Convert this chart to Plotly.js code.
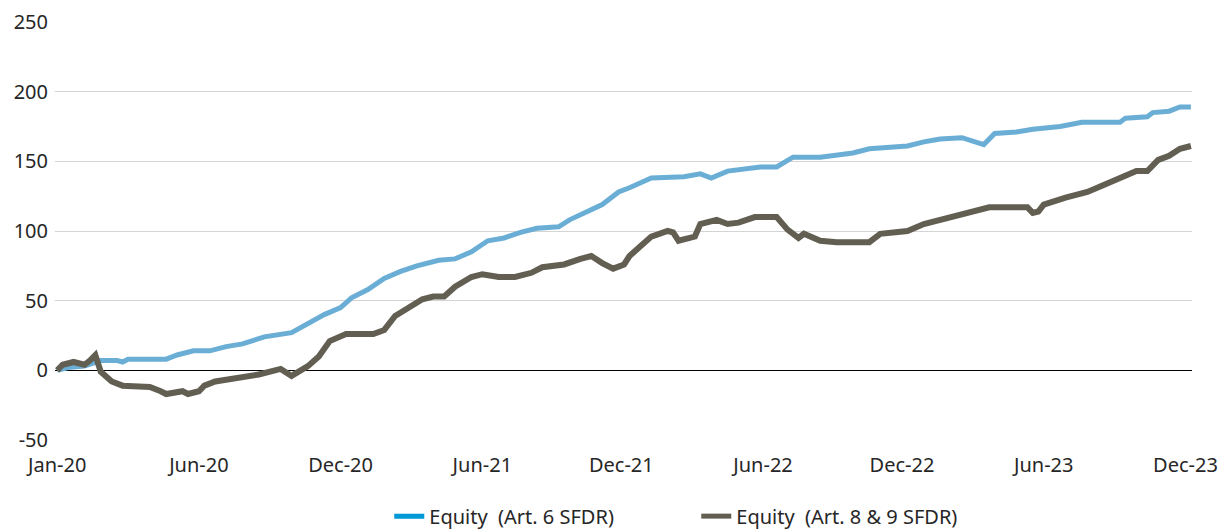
<!DOCTYPE html>
<html>
<head>
<meta charset="utf-8">
<script src="https://cdn.plot.ly/plotly-3.0.1.min.js"></script>
<style>html,body{margin:0;padding:0;background:#fff;}#chart{width:1220px;height:531px;}</style>
</head>
<body>
<div id="chart"></div>
<script>
// Week index (0 = start Jan-20, ~208 = end Dec-23) and values
const tickPositions = [0, 26, 52, 78, 103.5, 129.5, 155, 181, 207];
const tickLabels = ["Jan-20", "Jun-20", "Dec-20", "Jun-21", "Dec-21", "Jun-22", "Dec-22", "Jun-23", "Dec-23"];
const yTickValues = [-50, 0, 50, 100, 150, 200, 250];
const yTickLabels = ["-50", "0", "50", "100", "150", "200", "250"];

const art6Weeks = [0, 2, 5, 8, 11, 12, 13, 20, 22, 25, 28, 31, 34, 38, 43, 46, 49, 52, 54, 57, 60, 63, 66, 70, 73, 76, 79, 82, 85, 88, 92, 94, 97, 100, 103, 105, 109, 115, 118, 120, 123, 129, 132, 134, 135, 140, 146, 149, 153, 156, 159, 162, 166, 170, 172, 175, 176, 179, 184, 188, 195, 196, 200, 201, 204, 206, 208];
const art6Values = [0, 2, 3, 7, 7, 6, 8, 8, 11, 14, 14, 17, 19, 24, 27, 34, 40, 45, 52, 58, 66, 71, 75, 79, 80, 85, 93, 95, 99, 102, 103, 108, 114, 119, 128, 131, 138, 139, 141, 138, 143, 146, 146, 151, 153, 153, 156, 159, 160, 161, 164, 166, 167, 162, 170, 171, 171, 173, 175, 178, 178, 181, 182, 185, 186, 189, 189];

const art89Weeks = [0, 1, 3, 5, 6, 7, 8, 10, 12, 15, 17, 19, 20, 23, 24, 26, 27, 29, 32, 34, 37, 41, 43, 46, 48, 50, 53, 58, 60, 62, 64, 67, 69, 71, 73, 76, 78, 81, 84, 87, 89, 93, 96, 98, 100, 102, 104, 105, 107, 109, 112, 113, 114, 117, 118, 121, 123, 125, 128, 132, 134, 136, 137, 140, 143, 149, 151, 156, 159, 164, 167, 171, 178, 179, 180, 181, 185, 189, 192, 195, 198, 200, 202, 204, 206, 208];
const art89Values = [0, 4, 6, 4, 7, 11, -1, -8, -11, -12, -12, -15, -17, -15, -17, -15, -11, -8, -6, -5, -3, 1, -4, 3, 10, 21, 26, 26, 29, 39, 44, 51, 53, 53, 60, 67, 69, 67, 67, 70, 74, 76, 80, 82, 77, 73, 76, 82, 89, 96, 100, 99, 93, 96, 105, 108, 105, 106, 110, 110, 101, 95, 98, 93, 92, 92, 98, 100, 105, 110, 113, 117, 117, 113, 114, 119, 124, 128, 133, 138, 143, 143, 151, 154, 159, 161];

const seriesNames = ["Equity\u00a0 (Art. 6 SFDR)", "Equity\u00a0 (Art. 8 & 9 SFDR)"];

const FONT = "Noto Sans, Open Sans, sans-serif";
const TXT = "#262626";
const traces = [
  {x: art6Weeks, y: art6Values, type: "scatter", mode: "lines", showlegend: false,
   line: {color: "#6aaed6", width: 5}, hoverinfo: "skip"},
  {x: art89Weeks, y: art89Values, type: "scatter", mode: "lines", showlegend: false,
   line: {color: "#625f52", width: 6}, hoverinfo: "skip"},
  {x: [null], y: [null], type: "scatter", mode: "lines", name: seriesNames[0],
   line: {color: "#0099d8", width: 5}},
  {x: [null], y: [null], type: "scatter", mode: "lines", name: seriesNames[1],
   line: {color: "#625f52", width: 5}}
];

const layout = {
  width: 1220, height: 531,
  margin: {l: 55, r: 28, t: 22, b: 91, autoexpand: false},
  paper_bgcolor: "#ffffff", plot_bgcolor: "#ffffff",
  font: {family: FONT, size: 20, color: TXT},
  xaxis: {
    range: [-0.4, 208.2], tickmode: "array", tickvals: tickPositions, ticktext: tickLabels,
    showgrid: false, zeroline: false, showline: false, ticks: "", automargin: false,
    ticklabelstandoff: 11, ticklabeloverflow: "allow",
    tickfont: {family: FONT, size: 20, color: TXT}, fixedrange: true
  },
  yaxis: {
    range: [-50, 250], tickmode: "array", tickvals: yTickValues, ticktext: yTickLabels,
    automargin: false,
    showgrid: true, gridcolor: "#d4d4d4", gridwidth: 1,
    zeroline: true, zerolinecolor: "#000000", zerolinewidth: 1.5,
    showline: false, ticks: "", ticklabelstandoff: 6,
    tickfont: {family: FONT, size: 20, color: TXT}, fixedrange: true
  },
  legend: {
    orientation: "h", x: 0.564, xanchor: "center", yref: "container", y: 0.028, yanchor: "middle",
    font: {family: FONT, size: 20, color: TXT}, entrywidth: 262, entrywidthmode: "pixels",
    bgcolor: "rgba(0,0,0,0)"
  },
  showlegend: true
};

Plotly.newPlot("chart", traces, layout, {displayModeBar: false, staticPlot: true});
</script>
</body>
</html>
